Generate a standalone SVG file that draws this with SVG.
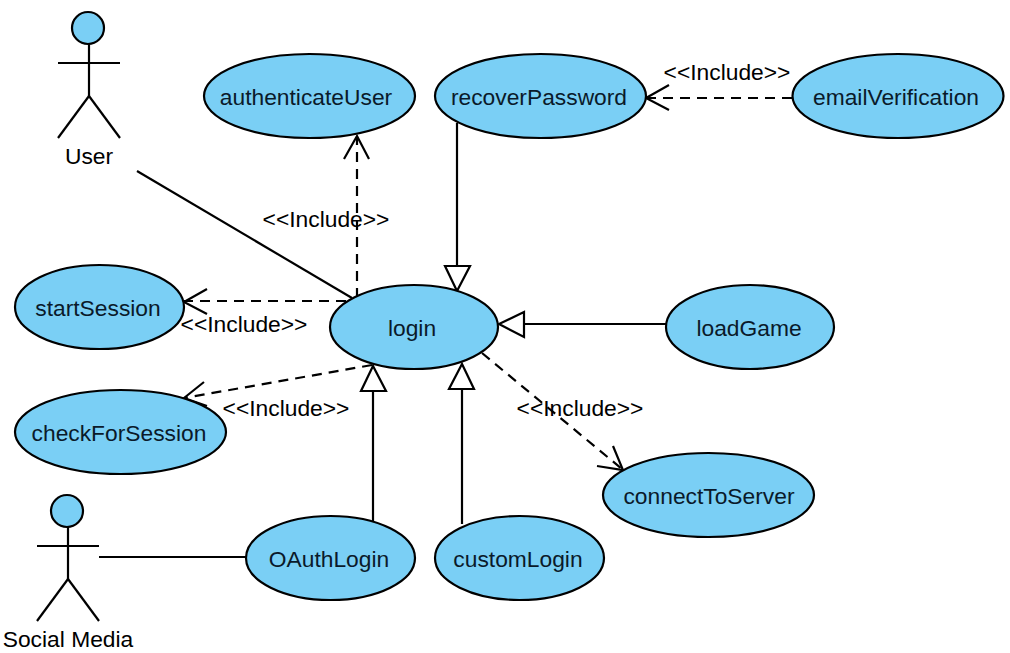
<svg xmlns="http://www.w3.org/2000/svg" width="1010" height="653" viewBox="0 0 1010 653">
<style>
text{font-family:"Liberation Sans",Arial,sans-serif;font-size:22.8px;fill:#000;text-anchor:middle}
.n text{fill:#0a1a2a}
ellipse,circle{fill:#7acff5;stroke:#000;stroke-width:2.2}
.a line{stroke:#000;stroke-width:2.2;fill:none}
.c line,.c path,.c polygon{stroke:#000;stroke-width:2.2;fill:none}
.c .d{stroke-dasharray:10 7}
.c polygon{fill:#fff}
</style>
<rect width="1010" height="653" fill="#fff"/>
<g id="connectors" class="c">
<line x1="137" y1="171" x2="352" y2="298"/>
<line x1="99" y1="557" x2="246" y2="557"/>
<line class="d" x1="357" y1="298" x2="357" y2="137"/>
<path d="M344 159L357 136L369 159"/>
<line class="d" x1="346" y1="301" x2="184" y2="301"/>
<path d="M207 289L184 302L207 314"/>
<line class="d" x1="372" y1="365" x2="184" y2="398"/>
<path d="M204 382L184 398L207 406"/>
<line class="d" x1="792" y1="98" x2="646" y2="98"/>
<path d="M669 85L646 98L669 110"/>
<line class="d" x1="482" y1="353" x2="622" y2="469"/>
<path d="M613 446L623 470L597 466"/>
<line x1="457" y1="123" x2="457" y2="266"/>
<polygon points="445,266 470,266 457,291"/>
<line x1="666" y1="324" x2="524" y2="324"/>
<polygon points="524,312 524,337 499,324"/>
<line x1="373" y1="521" x2="373" y2="391"/>
<polygon points="361,391 386,391 373,366"/>
<line x1="462" y1="524" x2="462" y2="389"/>
<polygon points="449,389 474,389 462,364"/>
</g>
<g id="authenticateUser" class="n"><ellipse cx="309.5" cy="96" rx="105.5" ry="42"/><text x="306" y="105">authenticateUser</text></g>
<g id="recoverPassword" class="n"><ellipse cx="540.5" cy="96" rx="105.5" ry="42"/><text x="539" y="105">recoverPassword</text></g>
<g id="emailVerification" class="n"><ellipse cx="898" cy="96" rx="105.5" ry="42"/><text x="896" y="105">emailVerification</text></g>
<g id="startSession" class="n"><ellipse cx="99.5" cy="307" rx="84.5" ry="42"/><text x="98" y="316">startSession</text></g>
<g id="login" class="n"><ellipse cx="414" cy="327" rx="84" ry="42"/><text x="412" y="336">login</text></g>
<g id="loadGame" class="n"><ellipse cx="750" cy="327" rx="84" ry="42"/><text x="749" y="336">loadGame</text></g>
<g id="checkForSession" class="n"><ellipse cx="120.5" cy="432" rx="105.5" ry="42"/><text x="119" y="441">checkForSession</text></g>
<g id="connectToServer" class="n"><ellipse cx="708.5" cy="495" rx="105.5" ry="42"/><text x="709" y="504">connectToServer</text></g>
<g id="OAuthLogin" class="n"><ellipse cx="330.5" cy="558" rx="84.5" ry="42"/><text x="329" y="567">OAuthLogin</text></g>
<g id="customLogin" class="n"><ellipse cx="519.5" cy="558" rx="84.5" ry="42"/><text x="518" y="567">customLogin</text></g>
<g id="User" class="a"><circle cx="88" cy="28" r="16"/><line x1="89" y1="44" x2="89" y2="96"/><line x1="58" y1="63" x2="120" y2="63"/><line x1="89" y1="96" x2="58" y2="138"/><line x1="89" y1="96" x2="120" y2="138"/><text x="89" y="164">User</text></g>
<g id="SocialMedia" class="a"><circle cx="67" cy="511" r="16"/><line x1="68" y1="527" x2="68" y2="579"/><line x1="37" y1="546" x2="99" y2="546"/><line x1="68" y1="579" x2="37" y2="621"/><line x1="68" y1="579" x2="99" y2="621"/><text x="68" y="647">Social Media</text></g>
<g id="labels">
<text x="326" y="227">&lt;&lt;Include&gt;&gt;</text>
<text x="244" y="332">&lt;&lt;Include&gt;&gt;</text>
<text x="286" y="416">&lt;&lt;Include&gt;&gt;</text>
<text x="727" y="80">&lt;&lt;Include&gt;&gt;</text>
<text x="580" y="416">&lt;&lt;Include&gt;&gt;</text>
</g>
</svg>
